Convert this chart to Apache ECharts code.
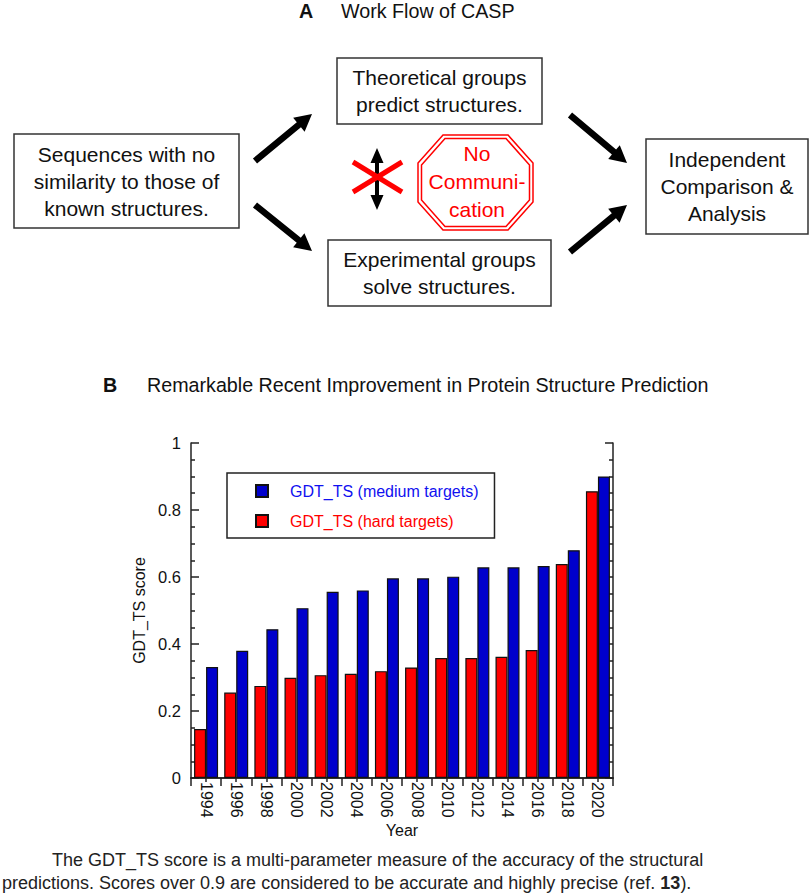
<!DOCTYPE html>
<html>
<head>
<meta charset="utf-8">
<script src="https://cdn.jsdelivr.net/npm/echarts@6/dist/echarts.min.js"></script>
<style>
html,body{margin:0;padding:0;background:#fff;}
#chart{width:809px;height:895px;}
</style>
</head>
<body>
<div id="chart"></div>
<script type="text/javascript">
// CASP years and GDT_TS scores
var years = ['1994','1996','1998','2000','2002','2004','2006','2008','2010','2012','2014','2016','2018','2020'];
var hardTargets = [0.146, 0.255, 0.275, 0.299, 0.307, 0.311, 0.319, 0.330, 0.358, 0.358, 0.362, 0.382, 0.639, 0.856];
var mediumTargets = [0.331, 0.380, 0.444, 0.507, 0.556, 0.560, 0.596, 0.596, 0.601, 0.629, 0.629, 0.633, 0.680, 0.900];
var seriesNames = ['GDT_TS (medium targets)', 'GDT_TS (hard targets)'];

var FONT = 'Liberation Sans, Arial, sans-serif';
var RED = '#ff0000', BLUE = '#0000cc';

//箭头多边形
function arrow(x1,y1,x2,y2,w,hl,hw){
	var dx=x2-x1, dy=y2-y1, L=Math.sqrt(dx*dx+dy*dy);
	var ux=dx/L, uy=dy/L, px=-uy, py=ux;
	var bx=x2-ux*hl, by=y2-uy*hl;
	return [[x1+px*w/2,y1+py*w/2],[bx+px*w/2,by+py*w/2],[bx+px*hw/2,by+py*hw/2],[x2,y2],
		[bx-px*hw/2,by-py*hw/2],[bx-px*w/2,by-py*w/2],[x1-px*w/2,y1-py*w/2]];
}
function octagon(x,y,w,h,cx,cy){
	return [[x+cx,y],[x+w-cx,y],[x+w,y+cy],[x+w,y+h-cy],[x+w-cx,y+h],[x+cx,y+h],[x,y+h-cy],[x,y+cy]];
}
function box(x,y,w,h,text){
	return [
		{type:'rect', shape:{x:x,y:y,width:w,height:h}, style:{fill:'#fff',stroke:'#333',lineWidth:1.5}},
		{type:'text', x:x+w/2, y:y+h/2, style:{text:text, fontSize:21, fontFamily:FONT, fill:'#111',
			align:'center', verticalAlign:'middle', lineHeight:27}}
	];
}

var graphics = [];
// 标题 A
graphics.push({type:'text', x:299, y:11, style:{text:'A', fontSize:19.7, fontWeight:'bold', fontFamily:FONT, fill:'#111', verticalAlign:'middle'}});
graphics.push({type:'text', x:341, y:11, style:{text:'Work Flow of CASP', fontSize:19.7, fontFamily:FONT, fill:'#111', verticalAlign:'middle'}});
// 流程框
graphics = graphics.concat(box(14,134,225,94,'Sequences with no\nsimilarity to those of\nknown structures.'));
graphics = graphics.concat(box(337,58,205,66,'Theoretical groups\npredict structures.'));
graphics = graphics.concat(box(328,240,223,66,'Experimental groups\nsolve structures.'));
graphics = graphics.concat(box(646,139,162,95,'Independent\nComparison &\nAnalysis'));
// 箭头
[[255,161,312,114],[255,205,312,251],[570,115,627,163],[570,252,627,205]].forEach(function(a){
	graphics.push({type:'polygon', shape:{points:arrow(a[0],a[1],a[2],a[3],6.5,17,18)}, style:{fill:'#000'}});
});
// 双向箭头 + 红叉
graphics.push({type:'polygon', shape:{points:[[377,148],[383.5,163],[379,163],[379,195],[383.5,195],[377,210],[370.5,195],[375,195],[375,163],[370.5,163]]}, style:{fill:'#000'}});
graphics.push({type:'line', shape:{x1:353,y1:162,x2:402,y2:192}, style:{stroke:RED,lineWidth:5}});
graphics.push({type:'line', shape:{x1:353,y1:192,x2:402,y2:162}, style:{stroke:RED,lineWidth:5}});
// 停止牌
graphics.push({type:'polygon', shape:{points:octagon(418,135,115,95,25,28)}, style:{fill:'#fff',stroke:RED,lineWidth:1.5}});
graphics.push({type:'polygon', shape:{points:octagon(421.5,138.5,108,88,23.5,26.5)}, style:{fill:'none',stroke:RED,lineWidth:1.5}});
graphics.push({type:'text', x:477, y:181, style:{text:'No\nCommuni-\ncation', fontSize:21, fontFamily:FONT, fill:RED,
	align:'center', verticalAlign:'middle', lineHeight:28}});
// 标题 B
graphics.push({type:'text', x:103, y:385, style:{text:'B', fontSize:19.7, fontWeight:'bold', fontFamily:FONT, fill:'#111', verticalAlign:'middle'}});
graphics.push({type:'text', x:147, y:385, style:{text:'Remarkable Recent Improvement in Protein Structure Prediction', fontSize:19.7, fontFamily:FONT, fill:'#111', verticalAlign:'middle'}});
// 说明文字
graphics.push({type:'text', x:52, y:860, style:{text:'The GDT_TS score is a multi-parameter measure of the accuracy of the structural', fontSize:18, fontFamily:FONT, fill:'#222', verticalAlign:'middle'}});
graphics.push({type:'text', x:2, y:883, style:{text:'{n|predictions. Scores over 0.9 are considered to be accurate and highly precise (ref. }{b|13}{n|).}',
	verticalAlign:'middle', rich:{n:{fontSize:18, fontFamily:FONT, fill:'#222'}, b:{fontSize:18, fontFamily:FONT, fontWeight:'bold', fill:'#222'}}}});

var axisLineStyle = {color:'#222', width:1.5};

var chart = echarts.init(document.getElementById('chart'), null, {renderer:'svg'});
var option = {
	animation:false,
	backgroundColor:'#fff',
	graphic: graphics,
	grid:{left:191, right:196, top:443, bottom:117},
	legend:{
		orient:'vertical', left:227, top:473,
		padding:[9,16,8,28],
		itemWidth:12, itemHeight:12, itemGap:12,
		borderColor:'#222', borderWidth:1.5,
		icon:'rect',
		data:[
			{name:seriesNames[0], textStyle:{color:'#1010f0'}},
			{name:seriesNames[1], textStyle:{color:RED}}
		],
		textStyle:{fontSize:16, fontFamily:FONT, lineHeight:18, padding:[0,0,0,17]}
	},
	xAxis:[{
		type:'category', data:years, position:'bottom',
		name:'Year', nameLocation:'middle', nameGap:44,
		nameTextStyle:{fontSize:16, fontFamily:FONT, color:'#111'},
		axisLine:{lineStyle:axisLineStyle},
		axisTick:{inside:true, length:7, lineStyle:axisLineStyle},
		axisLabel:{rotate:-90, margin:4, fontSize:16, fontFamily:FONT, color:'#111', interval:0}
	},{
		type:'value', position:'top', min:0, max:14, interval:1,
		axisLine:{show:true, lineStyle:axisLineStyle},
		axisTick:{show:true, inside:true, length:8, lineStyle:axisLineStyle},
		minorTick:{show:true, splitNumber:2, length:4, lineStyle:axisLineStyle},
		axisLabel:{show:false}, splitLine:{show:false}
	}],
	yAxis:[{
		type:'value', min:0, max:1, interval:0.2, position:'left',
		name:'GDT_TS score', nameLocation:'middle', nameGap:40,
		nameTextStyle:{fontSize:16, fontFamily:FONT, color:'#111'},
		axisLine:{show:true, lineStyle:axisLineStyle},
		axisTick:{show:true, inside:true, length:8, lineStyle:axisLineStyle},
		minorTick:{show:true, splitNumber:4, length:4, lineStyle:axisLineStyle},
		axisLabel:{fontSize:16.5, fontFamily:FONT, color:'#111', margin:10},
		splitLine:{show:false}
	},{
		type:'value', min:0, max:1, interval:0.2, position:'right',
		axisLine:{show:true, lineStyle:axisLineStyle},
		axisTick:{show:true, inside:true, length:8, lineStyle:axisLineStyle},
		minorTick:{show:true, splitNumber:4, length:4, lineStyle:axisLineStyle},
		axisLabel:{show:false}, splitLine:{show:false}
	}],
	series:[{
		name:seriesNames[1], type:'bar', data:hardTargets,
		barWidth:12, barGap:'0%',
		itemStyle:{color:RED, borderColor:'#111', borderWidth:1.2}
	},{
		name:seriesNames[0], type:'bar', data:mediumTargets,
		barWidth:12, barGap:'0%',
		itemStyle:{color:BLUE, borderColor:'#111', borderWidth:1.2}
	}]
};
chart.setOption(option);
</script>
</body>
</html>
